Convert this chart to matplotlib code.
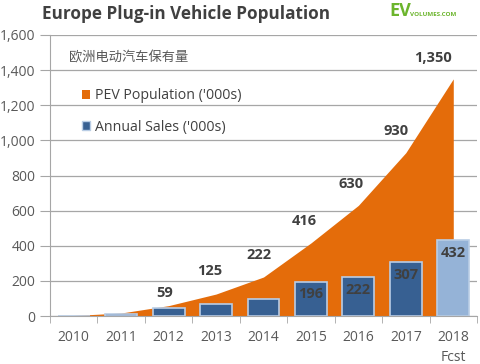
import numpy as np
import matplotlib.pyplot as plt
from matplotlib.patches import Patch

years = ['2010', '2011', '2012', '2013', '2014', '2015', '2016', '2017', '2018\nFcst']
population = [3, 17, 59, 125, 222, 416, 630, 930, 1350]   # PEV population ('000s)
annual_sales = [1, 12, 44, 67, 96, 196, 222, 307, 432]    # annual sales ('000s)
pop_labels = ['', '', '59', '125', '222', '416', '630', '930', '1,350']
sales_labels = ['', '', '', '', '', '196', '222', '307', '432']
y_ticks = [0, 200, 400, 600, 800, 1000, 1200, 1400, 1600]

plt.rcParams['font.family'] = ['Open Sans', 'Noto Sans CJK SC', 'DejaVu Sans']

fig = plt.figure(figsize=(4.8, 3.64), dpi=100)
ax = fig.add_axes([50 / 480, 1 - 316 / 364, 427 / 480, 281 / 364])

x = np.arange(len(years))
orange = '#E46C0A'
dark_blue = '#376092'
light_blue = '#95B3D7'
text_col = '#404040'
grid_col = '#A6A6A6'

# --- population area ---
ax.fill_between(x, population, 0, color=orange, lw=0, zorder=2)

# --- annual sales bars ---
bar_colors = [dark_blue] * (len(years) - 1) + [light_blue]
ax.bar(x, annual_sales, width=0.67, color=bar_colors, edgecolor='#B9CDE5',
       linewidth=1.2, zorder=3)

# --- labels ---
pop_dx = [0, 0, -4, -6, -5, -7, -7, -10, -20]   # px shift, labels sit slightly left
pop_dy = [0, 0, 6, 16, 15, 15, 14, 15, 14]
for i, lab in enumerate(pop_labels):
    if lab:
        ax.annotate(lab, (x[i], population[i]), xytext=(pop_dx[i] * 0.72, pop_dy[i] * 0.72),
                    textcoords='offset points', ha='center', va='bottom',
                    fontsize=10.5, fontweight='bold', color=text_col, zorder=5)
for i, lab in enumerate(sales_labels):
    if lab:
        ax.annotate(lab, (x[i], annual_sales[i]), xytext=(0, -4),
                    textcoords='offset points', ha='center', va='top',
                    fontsize=10.5, fontweight='bold', color=text_col, zorder=5)

# --- axes styling ---
ax.set_xlim(-0.5, len(years) - 0.5)
ax.set_ylim(0, 1600)
ax.set_yticks(y_ticks)
ax.set_yticklabels([f'{v:,}' for v in y_ticks], fontsize=10, color='#595959')
ax.yaxis.grid(True, color=grid_col, lw=0.9, zorder=0)
ax.set_axisbelow(True)
ax.tick_params(axis='y', length=7, color=grid_col, pad=3.5)

ax.set_xticks(x)
ax.set_xticklabels(years, fontsize=10, color='#595959', linespacing=1.5)
ax.set_xticks(np.arange(-0.5, len(years)), minor=True)
ax.tick_params(axis='x', which='major', length=0, pad=10)
ax.tick_params(axis='x', which='minor', length=5, color=grid_col)

for s in ['top', 'right']:
    ax.spines[s].set_visible(False)
ax.spines['left'].set_color(grid_col)
ax.spines['bottom'].set_color(grid_col)
ax.spines['bottom'].set_zorder(4)

# --- legend ---
handles = [Patch(facecolor=orange, edgecolor='none', label="PEV Population ('000s)"),
           Patch(facecolor=dark_blue, edgecolor='#B9CDE5', label="Annual Sales ('000s)")]
leg = ax.legend(handles=handles, loc='upper left', bbox_to_anchor=(0.045, 0.855),
                frameon=False, fontsize=10.2, handlelength=0.6, handleheight=0.6,
                handletextpad=0.35, labelspacing=1.15)
for t in leg.get_texts():
    t.set_color(text_col)
ax.text(0.045, 0.92, '欧洲电动汽车保有量', transform=ax.transAxes, fontsize=9.5,
        color='#595959', family=['Noto Sans CJK SC', 'DejaVu Sans'], va='center')

# --- title and logo ---
fig.text(42 / 480, 1 - 14 / 364, 'Europe Plug-in Vehicle Population', fontsize=12.3,
         fontweight='bold', color=text_col, va='center')
fig.text(389 / 480, 1 - 11 / 364, 'EV', fontsize=13, fontweight='bold',
         color='#6CB52D', va='center')
fig.text(410 / 480, 1 - 14 / 364, 'VOLUMES.COM', fontsize=4.5, fontweight='bold',
         color='#6CB52D', va='center')

fig.savefig('out.png', dpi=100)
